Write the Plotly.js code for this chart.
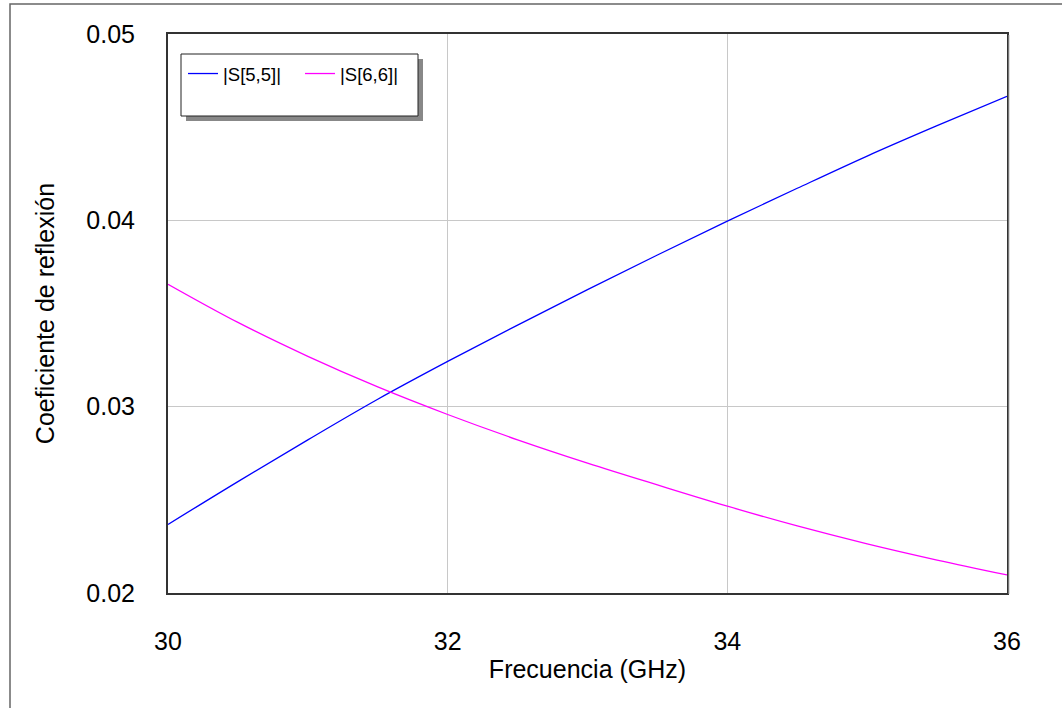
<!DOCTYPE html>
<html>
<head>
<meta charset="utf-8">
<script src="https://cdn.plot.ly/plotly-3.0.1.min.js"></script>
<style>html,body{margin:0;padding:0;background:#fff;}#chart{width:1062px;height:708px;}</style>
</head>
<body>
<div id="chart"></div>
<script>
const freq = [30, 30.5, 31, 31.5, 32, 32.5, 33, 33.5, 34, 34.5, 35, 35.5, 36];
const s55 = [0.02368, 0.02598, 0.02822, 0.03040, 0.03243, 0.03438, 0.03628, 0.03814, 0.03996, 0.04172, 0.04345, 0.04508, 0.04666];
const s66 = [0.03657, 0.03452, 0.03270, 0.03106, 0.02958, 0.02822, 0.02697, 0.02580, 0.02466, 0.02360, 0.02264, 0.02177, 0.02097];
const seriesNames = ['|S[5,5]|', '|S[6,6]|'];
const xTicks = [30, 32, 34, 36];
const yTicks = [0.02, 0.03, 0.04, 0.05];

const W = 1062, H = 708;
const L = 168, R = 1007, T = 34, B = 593;
const px = x => (x - L) / (R - L);
const py = y => (B - y) / (B - T);

const font = 'Liberation Sans, Arial, sans-serif';

const traces = [
  {x: freq, y: s55, name: seriesNames[0], mode: 'lines', line: {color: '#0000ff', width: 1.3, shape: 'spline'}},
  {x: freq, y: s66, name: seriesNames[1], mode: 'lines', line: {color: '#ff00ff', width: 1.3, shape: 'spline'}}
];

const layout = {
  width: W, height: H,
  margin: {l: L, r: W - R, t: T, b: H - B},
  paper_bgcolor: '#fff', plot_bgcolor: '#fff',
  font: {family: font, size: 25, color: '#000'},
  showlegend: true,
  legend: {
    orientation: 'h', x: px(183), y: py(55), xanchor: 'left', yanchor: 'top',
    bgcolor: 'rgba(0,0,0,0)', borderwidth: 0,
    font: {family: font, size: 18.5, color: '#000'},
    entrywidth: 72, entrywidthmode: 'pixels'
  },
  xaxis: {
    range: [30, 36], tickvals: xTicks, ticktext: xTicks.map(String),
    showgrid: true, gridcolor: '#c8c8c8', gridwidth: 1,
    showline: true, mirror: true, linecolor: '#333', linewidth: 2,
    ticks: '', ticklabelstandoff: 25, zeroline: false,
    title: {text: 'Frecuencia (GHz)', font: {family: font, size: 25}, standoff: 6},
    automargin: false
  },
  yaxis: {
    range: [0.02, 0.05], tickvals: yTicks, ticktext: yTicks.map(v => v.toFixed(2)),
    showgrid: true, gridcolor: '#c8c8c8', gridwidth: 1,
    showline: true, mirror: true, linecolor: '#333', linewidth: 2,
    ticks: '', ticklabelstandoff: 26, zeroline: false,
    title: {text: 'Coeficiente de reflexión', font: {family: font, size: 25}, standoff: 25},
    automargin: false
  },
  shapes: [
    {type: 'rect', xref: 'paper', yref: 'paper', x0: px(10), x1: px(1100), y0: py(4), y1: py(760),
     line: {color: '#666', width: 1.5}, fillcolor: 'rgba(0,0,0,0)', layer: 'below'},
    {type: 'line', xref: 'paper', yref: 'paper', x0: px(1009), x1: px(1009), y0: py(35), y1: py(594),
     line: {color: '#bbb', width: 1}},
    {type: 'rect', xref: 'paper', yref: 'paper', x0: px(186), x1: px(423), y0: py(59), y1: py(121),
     line: {width: 0}, fillcolor: '#888', layer: 'above'},
    {type: 'rect', xref: 'paper', yref: 'paper', x0: px(181), x1: px(418), y0: py(54), y1: py(116),
     line: {color: '#222', width: 1}, fillcolor: '#fff', layer: 'above'}
  ]
};

Plotly.newPlot('chart', traces, layout, {displayModeBar: false, staticPlot: true});
</script>
</body>
</html>
